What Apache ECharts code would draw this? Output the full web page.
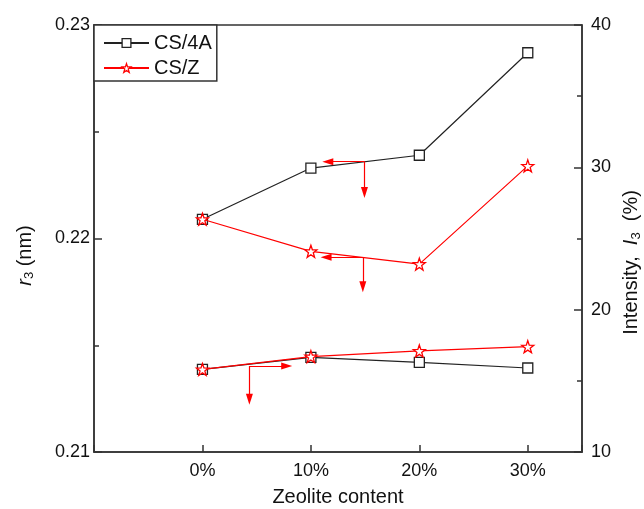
<!DOCTYPE html>
<html>
<head>
<meta charset="utf-8">
<script src="https://cdn.jsdelivr.net/npm/echarts@6/dist/echarts.min.js"></script>
<style>
  html, body { margin: 0; padding: 0; background: #fff; }
  #chart { width: 644px; height: 509px; }
</style>
</head>
<body>
<div id="chart"></div>
<script>
// Zeolite loading levels (x positions 0..3)
const categories = ['0%', '10%', '20%', '30%'];

// r3 (nm), left axis
const r3_CS4A = [0.2209, 0.2233, 0.2239, 0.2287];
const r3_CSZ  = [0.2209, 0.2194, 0.2188, 0.2234];

// Intensity I3 (%), right axis
const i3_CS4A = [15.8, 16.65, 16.3, 15.9];
const i3_CSZ  = [15.8, 16.7, 17.1, 17.4];

// Axis-pointing arrows: [startX, startY, endX, endY] in data units
const arrowsLeft = [
  [1.494, 0.2236, 1.156, 0.2236],
  [1.494, 0.2236, 1.494, 0.22216],
  [1.479, 0.21912, 1.14, 0.21912],
  [1.479, 0.21912, 1.479, 0.21774]
];
const arrowsRight = [
  [0.433, 16.04, 0.777, 16.04],
  [0.433, 16.04, 0.433, 13.70]
];

const FONT = 'Liberation Sans, Arial, sans-serif';
const STAR = 'path://M0,-10L2.35,-3.24L9.51,-3.09L3.8,1.24L5.88,8.09L0,4.2L-5.88,8.09L-3.8,1.24L-9.51,-3.09L-2.35,-3.24Z';

const pairs = arr => arr.map((v, i) => [i, v]);
const arrowLines = list => ({
  silent: true,
  symbol: ['none', 'triangle'],
  symbolSize: [7, 11],
  label: { show: false },
  emphasis: { disabled: true },
  lineStyle: { color: '#ff0000', width: 1.2, type: 'solid' },
  data: list.map(a => [{ coord: [a[0], a[1]] }, { coord: [a[2], a[3]] }])
});

const squareItem = { color: '#fff', borderColor: '#222', borderWidth: 1.3 };
const starItem = { color: '#fff', borderColor: '#ff0000', borderWidth: 1.3 };

const squareStyle = {
  type: 'line', symbol: 'rect', symbolSize: 10,
  itemStyle: squareItem,
  lineStyle: { color: '#222', width: 1.2 },
  emphasis: { disabled: true },
  z: 2
};
const starStyle = {
  type: 'line', symbol: STAR, symbolSize: 12,
  itemStyle: starItem,
  lineStyle: { color: '#ff0000', width: 1.2 },
  emphasis: { disabled: true },
  z: 3
};

const yAxisBase = {
  type: 'value',
  axisLine: { show: true, onZero: false, lineStyle: { color: '#333', width: 1.5 } },
  axisTick: { show: true, inside: true, length: 8, lineStyle: { color: '#333', width: 1.5 } },
  minorTick: { show: true, splitNumber: 2, length: 5, lineStyle: { color: '#333', width: 1.5 } },
  splitLine: { show: false }
};
const richName = {
  it: { fontSize: 20, fontStyle: 'italic', color: '#111', fontFamily: FONT },
  sub: { fontSize: 13, color: '#111', fontFamily: FONT, padding: [9, 0, 0, 0] }
};

const chart = echarts.init(document.getElementById('chart'), null, { renderer: 'canvas' });
chart.setOption({
  animation: false,
  backgroundColor: '#fff',
  textStyle: { fontFamily: FONT },
  grid: {
    left: 94, right: 62, top: 25, bottom: 57,
    outerBoundsMode: 'none', containLabel: false,
    show: true, borderColor: '#333', borderWidth: 1.5, backgroundColor: 'transparent'
  },
  legend: {
    left: 94, top: 25, orient: 'vertical',
    data: [
      { name: 'CS/4A', itemStyle: squareItem },
      { name: 'CS/Z', itemStyle: starItem }
    ],
    backgroundColor: '#fff', borderColor: '#333', borderWidth: 1.5,
    padding: [8, 5, 3, 9], itemGap: 5, itemWidth: 45, itemHeight: 11,
    textStyle: { fontSize: 20, color: '#111', fontFamily: FONT },
    selectedMode: false
  },
  xAxis: {
    type: 'value', min: -1, max: 3.5, interval: 1,
    axisLine: { show: true, onZero: false, lineStyle: { color: '#333', width: 1.5 } },
    axisTick: { show: true, inside: true, length: 7, lineStyle: { color: '#333', width: 1.5 } },
    splitLine: { show: false },
    axisLabel: { fontSize: 18, color: '#111', margin: 10, fontFamily: FONT,
      formatter: v => (v >= 0 && v < categories.length) ? categories[Math.round(v)] : '' },
    name: 'Zeolite content', nameLocation: 'middle', nameGap: 35,
    nameTextStyle: { fontSize: 20, color: '#111', fontFamily: FONT }
  },
  yAxis: [
    Object.assign({}, yAxisBase, {
      min: 0.21, max: 0.23, interval: 0.01, position: 'left',
      axisLabel: { fontSize: 18, color: '#111', margin: 4, fontFamily: FONT, formatter: v => v.toFixed(2) },
      name: '{it|r}{sub|3} (nm)', nameLocation: 'middle', nameGap: 58,
      nameTextStyle: { fontSize: 20, color: '#111', fontFamily: FONT, padding: [0, 34, 0, 0], rich: richName }
    }),
    Object.assign({}, yAxisBase, {
      min: 10, max: 40, interval: 10, position: 'right',
      axisLabel: { fontSize: 18, color: '#111', margin: 9, fontFamily: FONT },
      name: 'Intensity,  {it|I}{sub|3}  (%)', nameLocation: 'middle', nameGap: 38,
      nameTextStyle: { fontSize: 20, color: '#111', fontFamily: FONT, padding: [0, 48, 0, 0], rich: richName }
    })
  ],
  series: [
    Object.assign({ name: 'CS/4A', yAxisIndex: 0, data: pairs(r3_CS4A) }, squareStyle),
    Object.assign({ name: 'CS/Z', yAxisIndex: 0, data: pairs(r3_CSZ), markLine: arrowLines(arrowsLeft) }, starStyle),
    Object.assign({ name: 'CS/4A', yAxisIndex: 1, data: pairs(i3_CS4A) }, squareStyle),
    Object.assign({ name: 'CS/Z', yAxisIndex: 1, data: pairs(i3_CSZ), markLine: arrowLines(arrowsRight) }, starStyle)
  ]
});
</script>
</body>
</html>
